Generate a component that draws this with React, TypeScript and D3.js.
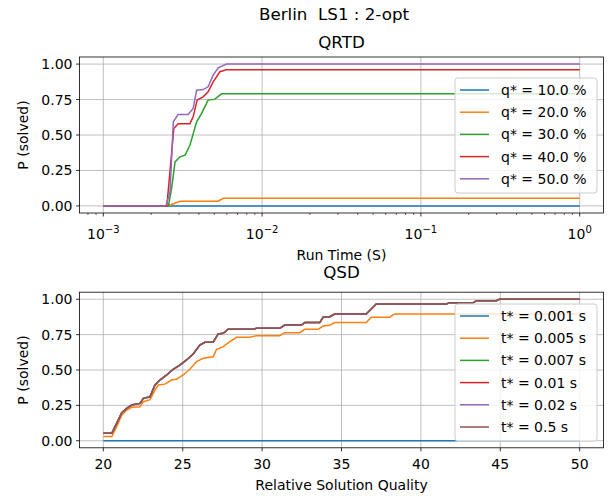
import React from 'react';
import * as d3 from 'd3';

// QRTD: run time (s) vs P(solved), one series per quality bound
const qrtdLabels = ['q* = 10.0 %', 'q* = 20.0 %', 'q* = 30.0 %', 'q* = 40.0 %', 'q* = 50.0 %'];
const qrtdT10 = [0.001, 1];
const qrtdP10 = [0, 0];
const qrtdT20 = [0.001, 0.0025, 0.00269, 0.00304, 0.00529, 0.00569, 1];
const qrtdP20 = [0, 0, 0.01, 0.033, 0.033, 0.054, 0.054];
const qrtdT30 = [0.001, 0.00257, 0.00269, 0.00283, 0.00304, 0.00327, 0.00351, 0.00387, 0.00416, 0.00457, 0.00504, 0.00556, 1];
const qrtdP30 = [0, 0, 0.12, 0.31, 0.346, 0.358, 0.428, 0.593, 0.652, 0.746, 0.753, 0.79, 0.79];
const qrtdT40 = [0.001, 0.00251, 0.00257, 0.00278, 0.00296, 0.00351, 0.00368, 0.0039, 0.00425, 0.00457, 0.00492, 0.00542, 0.00597, 1];
const qrtdP40 = [0, 0, 0.12, 0.546, 0.58, 0.58, 0.628, 0.746, 0.769, 0.805, 0.875, 0.946, 0.96, 0.96];
const qrtdT50 = [0.001, 0.00248, 0.00263, 0.00276, 0.00296, 0.00342, 0.00368, 0.00387, 0.00425, 0.00457, 0.00492, 0.00529, 0.00597, 1];
const qrtdP50 = [0, 0, 0.099, 0.593, 0.645, 0.645, 0.687, 0.816, 0.82, 0.84, 0.922, 0.974, 1.0, 1.0];

// QSD: relative solution quality vs P(solved), one series per time bound
const qsdLabels = ['t* = 0.001 s', 't* = 0.005 s', 't* = 0.007 s', 't* = 0.01 s', 't* = 0.02 s', 't* = 0.5 s'];
const qsdQ001 = [20, 50];
const qsdP001 = [0, 0];
const qsdQ005 = [20, 20.53, 20.84, 21.16, 21.47, 21.79, 22.31, 22.52, 22.94, 23.25, 23.46, 23.88, 24.3, 24.61, 25.03, 25.45, 25.87, 26.29, 26.92, 27.13, 27.55, 27.97, 28.39, 29.23, 29.65, 31.11, 31.43, 32.37, 32.69, 33.53, 33.84, 34.26, 34.57, 36.56, 36.88, 38.03, 38.35, 50];
const qsdP005 = [0.03, 0.03, 0.099, 0.18, 0.217, 0.236, 0.24, 0.276, 0.29, 0.358, 0.394, 0.4, 0.429, 0.434, 0.465, 0.505, 0.559, 0.583, 0.594, 0.646, 0.665, 0.7, 0.731, 0.731, 0.743, 0.743, 0.764, 0.764, 0.788, 0.788, 0.811, 0.816, 0.835, 0.835, 0.873, 0.873, 0.896, 0.896];
// t* >= 0.007 s all give the same curve
const qsdQLong = [20, 20.53, 20.84, 21.16, 21.47, 21.79, 22.31, 22.52, 22.94, 23.25, 23.57, 23.99, 24.4, 24.82, 25.24, 25.66, 26.08, 26.4, 26.92, 27.23, 27.55, 27.86, 29.43, 29.65, 31.11, 31.43, 32.48, 32.69, 33.63, 33.84, 34.26, 34.57, 36.56, 37.19, 41.6, 41.81, 43.3, 43.5, 44.75, 44.95, 50];
const qsdPLong = [0.052, 0.052, 0.123, 0.198, 0.229, 0.252, 0.264, 0.3, 0.311, 0.394, 0.429, 0.465, 0.505, 0.535, 0.571, 0.613, 0.677, 0.696, 0.696, 0.755, 0.759, 0.788, 0.788, 0.795, 0.795, 0.818, 0.818, 0.835, 0.835, 0.873, 0.877, 0.896, 0.896, 0.967, 0.967, 0.976, 0.976, 0.99, 0.99, 1.0, 1.0];

const pTicks = [0, 0.25, 0.5, 0.75, 1];
const qTicks = [20, 25, 30, 35, 40, 45, 50];
const tTicks = [0.001, 0.01, 0.1, 1];

const colors = ['#1f77b4', '#ff7f0e', '#2ca02c', '#d62728', '#9467bd', '#8c564b'];
const FONT = 'DejaVu Sans, sans-serif';
const FS = 14;
const W = 608;
const H = 498;

const zip = (xs: number[], ys: number[]) => xs.map((x, i) => [x, ys[i]] as [number, number]);

const Legend = ({ x, y, labels }: { x: number; y: number; labels: string[] }) => {
  const rowH = 22.2;
  const w = 142;
  const h = labels.length * rowH + 4;
  return (
    <g>
      <rect x={x} y={y} width={w} height={h} rx={3} fill="white" fillOpacity={0.8} stroke="#cccccc" strokeWidth={1} />
      {labels.map((l, i) => {
        const cy = y + 12 + i * rowH;
        return (
          <g key={l}>
            <line x1={x + 5} x2={x + 34} y1={cy} y2={cy} stroke={colors[i]} strokeWidth={1.5} />
            <text x={x + 46} y={cy + 5} fontSize={FS} fontFamily={FONT}>{l}</text>
          </g>
        );
      })}
    </g>
  );
};

const YAxis = ({ y, left, right }: { y: d3.ScaleLinear<number, number>; left: number; right: number }) => (
  <g>
    {pTicks.map(t => (
      <g key={t}>
        <line x1={left} x2={right} y1={y(t)} y2={y(t)} stroke="#b0b0b0" strokeWidth={0.8} />
        <line x1={left - 3.5} x2={left} y1={y(t)} y2={y(t)} stroke="black" strokeWidth={0.8} />
        <text x={left - 7} y={y(t) + 5} textAnchor="end" fontSize={FS} fontFamily={FONT}>{d3.format('.2f')(t)}</text>
      </g>
    ))}
  </g>
);

const App = () => {
  const left = 79.5;
  const right = 603.5;

  // top panel
  const t1 = 57, b1 = 213;
  const xT = d3.scaleLog().domain([Math.pow(10, -3.15), Math.pow(10, 0.15)]).range([left, right]);
  const y1 = d3.scaleLinear().domain([-0.05, 1.05]).range([b1, t1]);
  const line1 = d3.line<[number, number]>().x(d => xT(d[0])).y(d => y1(d[1]));
  const qrtdSeries = [zip(qrtdT10, qrtdP10), zip(qrtdT20, qrtdP20), zip(qrtdT30, qrtdP30), zip(qrtdT40, qrtdP40), zip(qrtdT50, qrtdP50)];
  const minor: number[] = [];
  for (let e = -4; e <= 0; e++) {
    for (let m = 2; m <= 9; m++) {
      const v = m * Math.pow(10, e);
      if (xT(v) >= left && xT(v) <= right) minor.push(v);
    }
  }

  // bottom panel
  const t2 = 292.2, b2 = 447.8;
  const xQ = d3.scaleLinear().domain([18.5, 51.5]).range([left, right]);
  const y2 = d3.scaleLinear().domain([-0.05, 1.05]).range([b2, t2]);
  const line2 = d3.line<[number, number]>().x(d => xQ(d[0])).y(d => y2(d[1]));
  const qsdSeries = [
    zip(qsdQ001, qsdP001),
    zip(qsdQ005, qsdP005),
    zip(qsdQLong, qsdPLong),
    zip(qsdQLong, qsdPLong),
    zip(qsdQLong, qsdPLong),
    zip(qsdQLong, qsdPLong),
  ];
  const cx = (left + right) / 2;

  return (
    <svg width={W} height={H} style={{ position: 'absolute', left: 0, top: 0, background: 'white' }}>
      <text x={334} y={20} textAnchor="middle" fontSize={16.7} fontFamily={FONT} style={{ whiteSpace: 'pre' }}>{'Berlin  LS1 : 2-opt'}</text>

      {/* QRTD */}
      <text x={cx} y={48} textAnchor="middle" fontSize={16.7} fontFamily={FONT}>QRTD</text>
      {tTicks.map(t => (
        <line key={t} x1={xT(t)} x2={xT(t)} y1={t1} y2={b1} stroke="#b0b0b0" strokeWidth={0.8} />
      ))}
      <YAxis y={y1} left={left} right={right} />
      {qrtdSeries.map((s, i) => (
        <path key={i} d={line1(s) || ''} fill="none" stroke={colors[i]} strokeWidth={1.5} />
      ))}
      <rect x={left} y={t1} width={right - left} height={b1 - t1} fill="none" stroke="black" strokeWidth={0.8} />
      {minor.map(v => (
        <line key={v} x1={xT(v)} x2={xT(v)} y1={b1} y2={b1 + 2} stroke="black" strokeWidth={0.6} />
      ))}
      {tTicks.map(t => {
        const e = Math.round(Math.log10(t));
        return (
          <g key={t}>
            <line x1={xT(t)} x2={xT(t)} y1={b1} y2={b1 + 3.5} stroke="black" strokeWidth={0.8} />
            <text x={xT(t)} y={239} textAnchor="middle" fontSize={FS} fontFamily={FONT}>
              10<tspan fontSize={10} dy={-6}>{e === 0 ? '0' : '\u2212' + Math.abs(e)}</tspan>
            </text>
          </g>
        );
      })}
      <text x={cx} y={260} textAnchor="middle" fontSize={FS} fontFamily={FONT}>Run Time (S)</text>
      <text transform={`translate(28,${(t1 + b1) / 2}) rotate(-90)`} textAnchor="middle" fontSize={FS} fontFamily={FONT}>P (solved)</text>
      <Legend x={455} y={78} labels={qrtdLabels} />

      {/* QSD */}
      <text x={cx} y={278} textAnchor="middle" fontSize={16.7} fontFamily={FONT}>QSD</text>
      {qTicks.map(q => (
        <line key={q} x1={xQ(q)} x2={xQ(q)} y1={t2} y2={b2} stroke="#b0b0b0" strokeWidth={0.8} />
      ))}
      <YAxis y={y2} left={left} right={right} />
      {qsdSeries.map((s, i) => (
        <path key={i} d={line2(s) || ''} fill="none" stroke={colors[i]} strokeWidth={1.5} />
      ))}
      <rect x={left} y={t2} width={right - left} height={b2 - t2} fill="none" stroke="black" strokeWidth={0.8} />
      {qTicks.map(q => (
        <g key={q}>
          <line x1={xQ(q)} x2={xQ(q)} y1={b2} y2={b2 + 3.5} stroke="black" strokeWidth={0.8} />
          <text x={xQ(q)} y={469} textAnchor="middle" fontSize={FS} fontFamily={FONT}>{q}</text>
        </g>
      ))}
      <text x={cx} y={490} textAnchor="middle" fontSize={FS} fontFamily={FONT}>Relative Solution Quality</text>
      <text transform={`translate(28,${(t2 + b2) / 2}) rotate(-90)`} textAnchor="middle" fontSize={FS} fontFamily={FONT}>P (solved)</text>
      <Legend x={455} y={304} labels={qsdLabels} />
    </svg>
  );
};

export default App;
